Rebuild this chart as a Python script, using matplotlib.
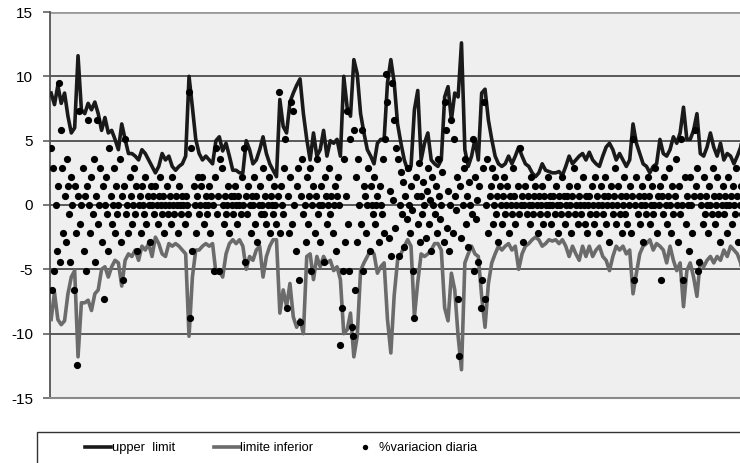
import numpy as np
import matplotlib.pyplot as plt
from matplotlib.patches import Rectangle

plt.rcParams['font.family'] = ['Liberation Sans', 'DejaVu Sans']
plt.rcParams['axes.unicode_minus'] = False

# limits read every 3rd day, daily variation read for every day
upper_limit = [
    8.7, 7.8, 9.3, 7.9, 8.7, 6.9, 5.6, 6.0, 11.6, 7.4,
    7.1, 7.9, 7.4, 8.0, 7.1, 5.8, 6.8, 5.6, 5.8, 5.1,
    4.3, 6.3, 5.1, 4.0, 4.0, 3.8, 3.5, 4.3, 4.0, 3.5,
    3.0, 2.5, 3.0, 4.0, 3.5, 3.8, 3.0, 2.7, 3.0, 3.2,
    3.8, 10.0, 7.6, 5.1, 4.0, 3.5, 3.8, 3.5, 3.2, 5.0,
    5.3, 4.2, 4.8, 3.8, 2.7, 2.7, 2.5, 2.5, 5.0, 4.3,
    3.2, 3.5, 4.3, 5.3, 4.0, 3.2, 2.7, 2.2, 8.2, 6.1,
    5.6, 8.0, 8.7, 9.3, 9.8, 7.1, 5.1, 3.5, 5.6, 3.8,
    4.3, 5.8, 3.8, 5.0, 4.8, 5.1, 3.8, 10.0, 7.6, 6.9,
    11.3, 10.2, 7.1, 5.6, 4.3, 3.8, 3.2, 4.8, 5.1, 5.1,
    9.5, 11.3, 9.5, 6.3, 4.8, 3.5, 2.7, 3.0, 7.4, 8.9,
    3.5, 4.8, 5.6, 3.5, 3.2, 3.0, 3.5, 8.4, 9.2, 6.6,
    8.7, 8.4, 12.6, 4.3, 3.0, 3.8, 5.1, 3.5, 8.7, 9.0,
    6.6, 5.1, 3.8, 3.2, 3.0, 3.2, 3.8, 3.2, 3.8, 4.5,
    3.8, 3.2, 3.0, 2.5, 2.2, 2.5, 3.2, 2.7, 2.6, 2.5,
    2.5, 2.6, 2.3, 3.0, 3.8, 3.2, 3.5, 3.8, 4.0, 3.5,
    4.1, 3.5, 3.2, 3.0, 3.8, 4.5, 4.8, 4.3, 3.5, 4.0,
    3.5, 3.0, 3.5, 6.3, 4.8, 4.0, 3.2, 3.0, 2.5, 3.0,
    3.2, 5.1, 4.0, 3.8, 4.3, 5.3, 4.8, 5.6, 7.6, 5.1,
    5.1, 5.8, 7.1, 4.0, 3.8, 4.5, 5.6, 4.5, 3.8, 4.8,
    3.5, 4.0, 3.8, 3.2, 3.8, 4.5, 6.1,
]

limite_inferior = [
    -8.9, -6.8, -8.9, -9.3, -9.0, -6.9, -5.6, -5.1, -11.8, -7.6,
    -7.6, -7.4, -8.2, -6.9, -6.6, -5.0, -4.8, -5.6, -4.8, -4.3,
    -4.5, -6.3, -4.3, -3.8, -4.0, -3.5, -4.3, -3.2, -3.5, -3.0,
    -4.0, -2.5, -3.0, -3.8, -4.0, -3.0, -3.2, -3.0, -3.2, -3.5,
    -3.8, -10.2, -5.6, -3.5, -3.5, -3.2, -3.0, -3.2, -3.0, -5.3,
    -5.1, -5.6, -3.8, -3.0, -2.7, -3.0, -2.7, -3.2, -5.0, -4.0,
    -4.3, -3.5, -3.2, -5.6, -4.0, -3.2, -2.7, -2.7, -8.4, -6.6,
    -7.9, -6.1, -8.7, -9.5, -8.9, -10.0, -4.0, -3.8, -5.8, -4.0,
    -4.8, -4.0, -4.5, -4.3, -5.1, -4.8, -5.8, -10.0, -9.7, -8.4,
    -11.8, -10.2, -5.1, -4.5, -4.0, -3.5, -3.8, -5.3, -4.8, -4.5,
    -8.9, -11.5, -7.0, -4.3, -3.8, -3.2, -2.7, -3.2, -8.7, -6.0,
    -3.8, -4.0, -3.8, -3.5, -3.0, -3.0, -3.5, -8.0, -9.0, -5.3,
    -6.6, -10.2, -12.8, -4.5, -3.8, -3.2, -3.8, -4.0, -7.1, -9.5,
    -6.1, -4.5, -3.8, -3.2, -3.5, -3.2, -3.0, -3.5, -3.2, -5.0,
    -3.8, -3.2, -3.0, -2.7, -2.5, -2.7, -3.2, -3.0, -2.7, -2.8,
    -2.7, -3.0, -2.7, -3.2, -4.0, -3.2, -3.8, -4.3, -3.2, -4.0,
    -3.2, -4.0, -3.5, -3.2, -4.0, -4.3, -5.1, -4.0, -3.2, -3.5,
    -3.2, -3.8, -3.5, -6.9, -5.3, -3.8, -3.2, -3.0, -2.7, -3.5,
    -3.0, -3.2, -3.5, -4.5, -3.2, -4.3, -5.1, -4.5, -7.9, -5.1,
    -4.5, -5.6, -7.1, -4.3, -4.8, -4.3, -4.0, -4.5, -4.0, -4.3,
    -3.5, -4.0, -3.2, -3.5, -3.8, -4.5, -6.1,
]

variacion_diaria = [
    4.4, -6.6, 2.9, -5.1, 0, -3.6, 1.5, 9.5, -4.4, 5.8,
    2.9, -2.2, 0.7, -2.9, 3.6, 1.5, -0.7, -4.4, 2.2, 0,
    -6.6, 1.5, -2.2, -12.4, 0.7, 7.3, -1.5, 0, 2.9, -3.6,
    0.7, -5.1, 1.5, 6.6, 0, -2.2, 2.2, -0.7, 3.6, -4.4,
    0.7, 6.6, -1.5, 0, 2.9, -2.9, 1.5, -7.3, 0, 2.2,
    -0.7, -3.6, 4.4, 0.7, -1.5, 0, 2.9, -2.2, 1.5, -0.7,
    0, 3.6, -2.9, 0.7, -5.8, 1.5, 5.1, -0.7, 0, -2.2,
    2.2, 0.7, -1.5, 0, 2.9, -0.7, 1.5, -3.6, 0, 0.7,
    -2.2, 1.5, 0, -0.7, 2.2, -1.5, 0.7, 0, -2.9, 1.5,
    0, 0.7, -0.7, 1.5, 0, -1.5, 0.7, 2.2, 0, -0.7,
    0.7, -2.2, 0, 1.5, -0.7, 0, 0.7, -1.5, 2.2, 0,
    -0.7, 0.7, 0, -2.2, 1.5, 0, -0.7, 0.7, 0, -1.5,
    0.7, 0, -0.7, 8.8, -8.8, 4.4, -3.6, 1.5, 0, -2.2,
    0.7, 2.2, -0.7, 0, 1.5, 2.2, -1.5, 0, 0.7, -0.7,
    0, 1.5, -2.2, 0.7, 0, -5.1, 2.2, 4.4, -0.7, 0.7,
    -5.1, 3.6, 2.9, 0, -1.5, 0.7, -0.7, 0, 1.5, -2.2,
    0.7, 0, -0.7, 0.7, 1.5, 0, -1.5, 0.7, 0, -0.7,
    2.2, 0, 4.4, -4.4, 0.7, -0.7, 1.5, 0, -2.2, 0.7,
    0, 2.2, -1.5, 0.7, -2.9, 0, 1.5, -0.7, 0, 2.9,
    -0.7, 0.7, -1.5, 0, 2.2, -2.2, 0.7, 0, -0.7, 1.5,
    0, -1.5, 0.7, 8.8, -2.2, 1.5, 0, -0.7, 2.9, 5.1,
    -8.0, 0.7, -2.2, 2.2, 8.0, -1.5, 7.3, 0, -3.6, 1.5,
    2.9, -5.8, -9.1, 0.7, 3.6, -0.7, 0, -2.9, 2.2, -1.5,
    0.7, 2.9, -5.1, 0, 1.5, -2.2, 0.7, 3.6, -0.7, 0,
    -2.9, 1.5, 0, -4.4, 2.2, 0.7, -1.5, 0, 2.9, -0.7,
    0.7, -2.2, 0, 1.5, -3.6, 0.7, 2.2, 0, -10.9, -8.0,
    -5.1, 3.6, -2.9, 0.7, 7.3, -1.5, -5.1, 5.1, -9.5, -10.2,
    5.8, -6.6, 2.2, -2.9, 3.6, 0, -1.5, 5.8, -5.1, 1.5,
    0.7, -2.2, 0, 2.9, -3.6, 1.5, 0, -0.7, 2.2, -1.5,
    0, 0.7, -2.9, 1.5, 0, -0.7, 3.6, -2.2, 5.1, 10.2,
    8.0, -2.6, 1.1, -4.0, 9.5, 0.4, 6.6, -1.8, 4.4, 3.6,
    -4.0, 0, 2.6, -0.7, 1.8, -3.3, 0.7, -1.1, 2.9, 0,
    -2.2, 1.5, -0.4, -5.1, -8.8, 2.2, 0.7, -1.5, 3.3, -2.9,
    0.7, -0.7, 1.8, 0, -2.6, 1.1, 2.9, -1.5, 0.4, -3.6,
    2.2, 0, -0.7, 1.5, -2.2, 3.6, 0.7, -1.1, 0, 2.6,
    -2.9, 8.0, 5.8, -1.8, 1.1, -3.6, 0, 6.6, -2.2, 5.1,
    0.7, -0.4, 2.2, -7.3, -11.7, 1.5, -2.6, 0, 2.9, 3.6,
    -1.5, 0.7, -3.3, 1.8, 0, -0.7, 5.1, -5.1, 2.2, -1.1,
    0.4, -4.4, 1.5, -8.0, -5.8, 2.9, 8.0, -7.3, 0, 3.6,
    -2.2, 0.7, 1.5, 2.9, -1.5, 0, 2.2, -0.7, 0.7, -2.9,
    1.5, 0, -1.5, 0.7, 2.2, -0.7, 0, 1.5, -2.2, 0.7,
    0, -0.7, 2.9, 0.7, -1.5, 0, 1.5, -0.7, 4.4, 0,
    0.7, -2.9, 0, 1.5, -0.7, 0.7, 0, -1.5, 2.2, 0,
    -0.7, 0.7, 1.5, 0, -2.2, 0.7, -0.7, 0, 1.5, -1.5,
    0.7, 0, -0.7, 2.2, 0, 0.7, -1.5, 0, 0.7, -0.7,
    1.5, 0, -2.2, 0.7, 0, -0.7, 2.2, 0.7, -1.5, 0,
    0.7, -0.7, 1.5, 0, -2.2, 0.7, 2.9, -0.7, 0, 1.5,
    -1.5, 0.7, 0, -0.7, 2.2, 0, -1.5, 0.7, -2.2, 0,
    0.7, -0.7, 1.5, 0, -1.5, 2.2, -0.7, 0.7, 0, -2.2,
    1.5, 0, -0.7, 0.7, 2.2, -1.5, 0, 0.7, -2.9, 1.5,
    0, -0.7, 0.7, 2.9, -1.5, 0, 1.5, -0.7, 0.7, -2.2,
    0, 2.2, -0.7, 0.7, -1.5, 0, 1.5, -2.2, 0.7, 5.1,
    -5.8, 0, 2.2, -0.7, 0.7, -1.5, 0, 1.5, -2.9, 0.7,
    0, -0.7, 2.2, 0.7, -1.5, 0, 1.5, -0.7, 0, 2.9,
    -2.2, 0.7, 0, 1.5, -5.8, 0.7, -0.7, 2.2, 0, -1.5,
    0.7, 2.9, 0, -2.2, 1.5, -0.7, 0.7, 3.6, 0, -2.9,
    1.5, -0.7, 5.1, 0, -5.8, 2.2, -1.5, 0.7, 0, -3.6,
    2.2, 0, -2.2, 0.7, 5.8, 1.5, 2.9, -5.1, -4.4, 0.7,
    0, -1.5, 2.2, -0.7, 0.7, 0, -2.2, 1.5, 0, -0.7,
    2.9, 0.7, -1.5, 0, 2.2, -0.7, 0.7, -2.9, 0, 1.5,
    -0.7, 0.7, 0, -2.2, 2.2, 0, 0.7, -1.5, 1.5, 0,
    -0.7, 2.9, 0.7, -2.9, 0, 1.5, -0.7, 4.4, 0.7, -2.2,
    0,
]

dias = np.arange(len(variacion_diaria))
dias_limite = dias[::3]

fig = plt.figure(figsize=(7.4, 4.63), dpi=100)
ax = fig.add_axes([50 / 740, 1 - 398 / 463, 1 - 50 / 740 + 0.01, 386 / 463])
ax.set_facecolor('#efefef')

ax.plot(dias_limite, upper_limit, color='#1a1a1a', lw=2.6, label='upper  limit', zorder=3)
ax.plot(dias_limite, limite_inferior, color='#6b6b6b', lw=2.6, label='limite inferior', zorder=3)
ax.plot(dias, variacion_diaria, 'o', color='black', ms=5.2, mew=0,
        label='%variacion diaria', zorder=4)

ax.set_ylim(-15, 15)
ax.set_xlim(-1, 621)
ax.set_yticks([-15, -10, -5, 0, 5, 10, 15])
ax.set_xticks([])
for v in [-10, -5, 0, 5, 10]:
    ax.axhline(v, color='#4d4d4d', lw=1.3, zorder=2)
ax.axhline(15, color='#9a9a9a', lw=2, zorder=2)
for s in ['top', 'right']:
    ax.spines[s].set_visible(False)
ax.spines['left'].set_color('#555555')
ax.spines['left'].set_linewidth(1.3)
ax.spines['bottom'].set_color('#8a8a8a')
ax.spines['bottom'].set_linewidth(1.5)
ax.tick_params(axis='y', labelsize=11, length=5, pad=7, color='#555555', width=1.1)

fig.add_artist(Rectangle((37 / 740, -0.05), 1.0, 0.05 + 31 / 463, transform=fig.transFigure,
                         fill=False, edgecolor='#333333', lw=1.0))
fig.legend(loc='center', bbox_to_anchor=(281 / 740, 1 - 448 / 463), ncol=3, frameon=False,
           fontsize=9.3, handlelength=2.0, handletextpad=0.05, columnspacing=3.0,
           markerscale=0.75)

fig.savefig('out.png', dpi=100)
